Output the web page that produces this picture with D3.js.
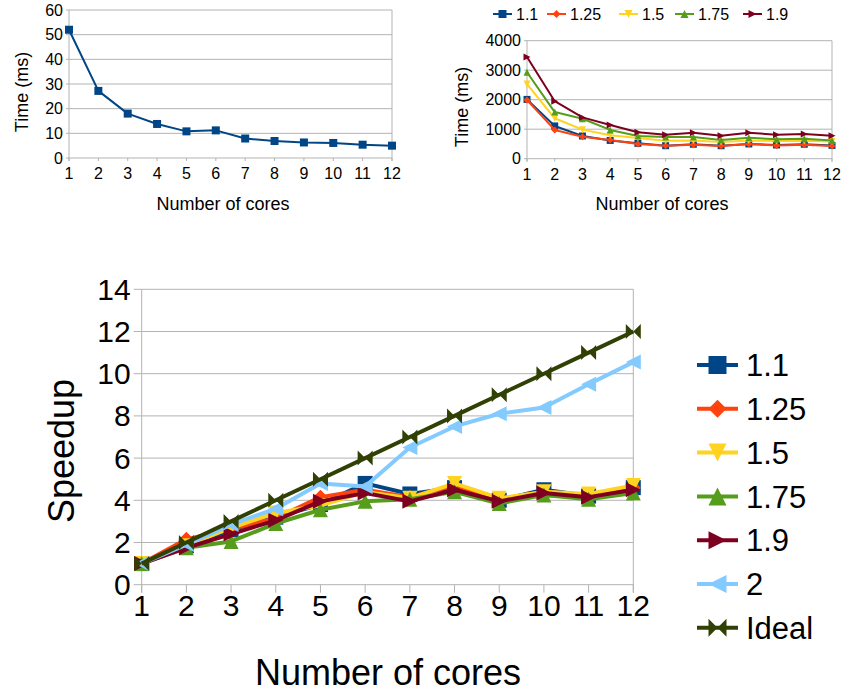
<!DOCTYPE html>
<html lang="en">
  <head>
    <meta charset="UTF-8">
    <title>Speedup</title>
    <script src="https://d3js.org/d3.v7.min.js"></script>
    <style>
      body { margin: 0; background: #fff; }
      text { font-family: "Liberation Sans", Arial, sans-serif; fill: #000; }
      .grid line { stroke: #b3b3b3; stroke-width: 1; }
    </style>
  </head>
  <body>
    <svg id="chart" width="843" height="696"></svg>
    <script>
      // data
      const cores = [1, 2, 3, 4, 5, 6, 7, 8, 9, 10, 11, 12]
      const timeSingle = [52, 27.2, 18, 13.8, 10.8, 11.2, 7.9, 6.9, 6.3, 6.1, 5.4, 5.0]

      const timeNames = ["1.1", "1.25", "1.5", "1.75", "1.9"]
      const time11 = [2010, 1110, 770, 620, 520, 440, 490, 440, 500, 465, 490, 450]
      const time125 = [1990, 975, 745, 635, 500, 440, 475, 430, 500, 450, 475, 430]
      const time15 = [2530, 1370, 985, 795, 700, 610, 620, 565, 620, 600, 610, 580]
      const time175 = [2930, 1580, 1355, 975, 770, 735, 735, 635, 710, 660, 680, 620]
      const time19 = [3450, 1950, 1400, 1140, 895, 815, 880, 780, 880, 815, 835, 780]

      const speedNames = ["1.1", "1.25", "1.5", "1.75", "1.9", "2", "Ideal"]
      const speed11 = [1, 1.85, 2.6, 3.2, 3.8, 4.8, 4.3, 4.6, 4.0, 4.5, 4.2, 4.6]
      const speed125 = [1, 2.15, 2.65, 3.15, 4.15, 4.5, 4.15, 4.7, 4.05, 4.4, 4.25, 4.6]
      const speed15 = [1, 1.85, 2.7, 3.4, 3.75, 4.4, 4.1, 4.8, 4.1, 4.4, 4.3, 4.7]
      const speed175 = [1, 1.75, 2.05, 2.9, 3.55, 3.95, 4.05, 4.4, 3.85, 4.25, 4.05, 4.35]
      const speed19 = [1, 1.75, 2.4, 3.05, 3.95, 4.35, 3.95, 4.5, 3.95, 4.35, 4.15, 4.5]
      const speed2 = [1, 1.9, 2.85, 3.6, 4.8, 4.65, 6.5, 7.5, 8.1, 8.4, 9.5, 10.55]
      const speedIdeal = [1, 2, 3, 4, 5, 6, 7, 8, 9, 10, 11, 12]

      const colors = ["#004586", "#ff420e", "#ffd320", "#579d1c", "#7e0021", "#83caff", "#314004"]
      const shapes = ["square", "diamond", "down", "up", "right", "left", "bowtie"]

      // marker paths centred on 0,0
      function marker(shape, s) {
        switch (shape) {
          case "square": return `M${-s},${-s}H${s}V${s}H${-s}Z`
          case "diamond": return `M0,${-s}L${s},0L0,${s}L${-s},0Z`
          case "down": return `M${-s},${-s}L${s},${-s}L0,${s}Z`
          case "up": return `M0,${-s}L${s},${s}L${-s},${s}Z`
          case "right": return `M${-s},${-s}L${s},0L${-s},${s}Z`
          case "left": return `M${s},${-s}L${-s},0L${s},${s}Z`
          case "bowtie": return `M${-s},${-s}L0,0L${-s},${s}ZM${s},${-s}L0,0L${s},${s}Z`
        }
      }

      const svg = d3.select("#chart")

      // one line chart panel
      function panel(opt) {
        const g = svg.append("g")
        const x = d3.scaleLinear().domain([1, 12]).range([opt.left, opt.right])
        const y = d3.scaleLinear().domain([0, opt.yMax]).range([opt.bottom, opt.top])
        const yTicks = d3.range(0, opt.yMax + 1, opt.yStep)

        // gridlines
        g.append("g").attr("class", "grid")
          .selectAll("line").data(yTicks).join("line")
          .attr("x1", opt.left - opt.tick).attr("x2", opt.right)
          .attr("y1", d => y(d)).attr("y2", d => y(d))
        // right border + y axis line
        g.append("line").attr("x1", opt.right).attr("x2", opt.right)
          .attr("y1", opt.top).attr("y2", opt.bottom + opt.tick)
          .attr("stroke", "#b3b3b3")
        g.append("line").attr("x1", opt.left).attr("x2", opt.left)
          .attr("y1", opt.top).attr("y2", opt.bottom + opt.tick)
          .attr("stroke", "#b3b3b3")
        // x ticks
        g.append("g").selectAll("line").data(cores).join("line")
          .attr("x1", d => x(d)).attr("x2", d => x(d))
          .attr("y1", opt.bottom).attr("y2", opt.bottom + opt.tick)
          .attr("stroke", "#b3b3b3")

        g.append("g").selectAll("text").data(yTicks).join("text")
          .attr("x", opt.left - opt.tick - 3).attr("y", d => y(d))
          .attr("dy", "0.35em").attr("text-anchor", "end")
          .attr("font-size", opt.tickFont)
          .text(d => d)
        g.append("g").selectAll("text").data(cores).join("text")
          .attr("x", d => x(d)).attr("y", opt.bottom + opt.xLabelDy)
          .attr("text-anchor", "middle")
          .attr("font-size", opt.tickFont)
          .text(d => d)

        g.append("text").attr("x", opt.xTitle[0]).attr("y", opt.xTitle[1])
          .attr("text-anchor", "middle").attr("font-size", opt.titleFont)
          .text("Number of cores")
        g.append("text")
          .attr("transform", `translate(${opt.yTitle[0]},${opt.yTitle[1]}) rotate(-90)`)
          .attr("text-anchor", "middle").attr("font-size", opt.titleFont)
          .text(opt.yLabel)

        const line = d3.line().x((d, i) => x(cores[i])).y(d => y(d))
        opt.series.forEach((vals, k) => {
          const sg = g.append("g")
          sg.append("path").datum(vals).attr("d", line)
            .attr("fill", "none").attr("stroke", colors[k])
            .attr("stroke-width", opt.lineW).attr("stroke-linejoin", "round")
          sg.selectAll("path.m").data(vals).join("path").attr("class", "m")
            .attr("transform", (d, i) => `translate(${x(cores[i])},${y(d)})`)
            .attr("d", marker(shapes[k], opt.markS))
            .attr("fill", colors[k])
        })
        return g
      }

      // top left
      panel({
        left: 69, right: 392, top: 10, bottom: 158, yMax: 60, yStep: 10, tick: 3,
        tickFont: 16, titleFont: 18, xLabelDy: 21, xTitle: [223, 210], yTitle: [28, 92],
        yLabel: "Time (ms)", series: [timeSingle], lineW: 2, markS: 4
      })

      // top right
      panel({
        left: 527, right: 832, top: 40.7, bottom: 158.7, yMax: 4000, yStep: 1000, tick: 3,
        tickFont: 16, titleFont: 18, xLabelDy: 21, xTitle: [662, 210], yTitle: [468, 107],
        yLabel: "Time (ms)", series: [time11, time125, time15, time175, time19], lineW: 2, markS: 3.5
      })

      // top right legend
      const legTop = svg.append("g")
      const legX = [493, 547, 619, 675, 743]
      timeNames.forEach((n, k) => {
        legTop.append("line").attr("x1", legX[k]).attr("x2", legX[k] + 19)
          .attr("y1", 14).attr("y2", 14).attr("stroke", colors[k]).attr("stroke-width", 2)
        legTop.append("path").attr("transform", `translate(${legX[k] + 9.5},14)`)
          .attr("d", marker(shapes[k], 4)).attr("fill", colors[k])
        legTop.append("text").attr("x", legX[k] + 23).attr("y", 14).attr("dy", "0.35em")
          .attr("font-size", 16).text(n)
      })

      // bottom speedup
      panel({
        left: 141.7, right: 633.3, top: 289.3, bottom: 584.7, yMax: 14, yStep: 2, tick: 8,
        tickFont: 30, titleFont: 36, xLabelDy: 31, xTitle: [388, 685], yTitle: [74, 451],
        yLabel: "Speedup", series: [speed11, speed125, speed15, speed175, speed19, speed2, speedIdeal],
        lineW: 4, markS: 7.5
      })

      const legBot = svg.append("g")
      speedNames.forEach((n, k) => {
        const ly = 365 + k * 43.8
        legBot.append("line").attr("x1", 697).attr("x2", 738)
          .attr("y1", ly).attr("y2", ly).attr("stroke", colors[k]).attr("stroke-width", 4)
        legBot.append("path").attr("transform", `translate(717.5,${ly})`)
          .attr("d", marker(shapes[k], 9)).attr("fill", colors[k])
        legBot.append("text").attr("x", 746).attr("y", ly).attr("dy", "0.36em")
          .attr("font-size", 31).text(n)
      })
    </script>
  </body>
</html>
